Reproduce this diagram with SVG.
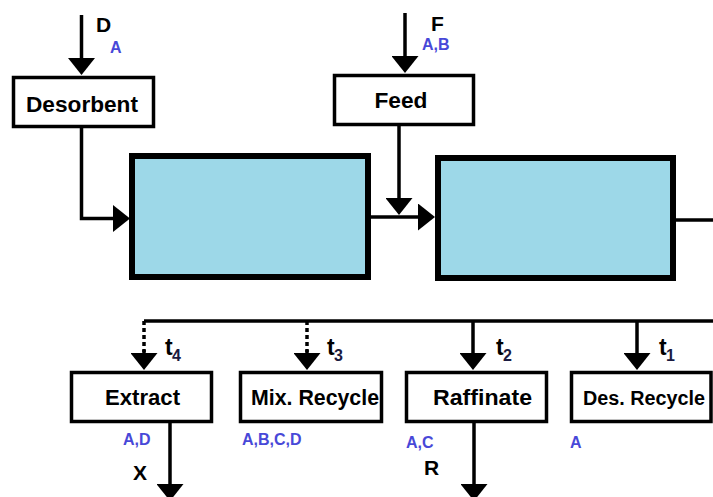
<svg xmlns="http://www.w3.org/2000/svg" width="713" height="497" viewBox="0 0 713 497">
<defs>
<marker id="arr" markerUnits="userSpaceOnUse" viewBox="0 0 17 27" markerWidth="17" markerHeight="27" refX="14" refY="13.5" orient="auto">
<path d="M0,0 L17,13.5 L0,27 z" fill="#000"/>
</marker>
<style>
.lbl{font-family:"Liberation Sans",Arial,sans-serif;font-weight:bold;font-size:22px;fill:#000;text-anchor:middle}
.nar{font-size:20px}
.big{font-family:"Liberation Sans",Arial,sans-serif;font-weight:bold;font-size:21px;fill:#000}
.tt{font-family:"Liberation Sans",Arial,sans-serif;font-weight:bold;font-size:23px;fill:#000}
.sub{font-family:"Liberation Sans",Arial,sans-serif;font-weight:bold;font-size:16px;fill:#1a1a40}
.blue{font-family:"Liberation Sans",Arial,sans-serif;font-weight:bold;font-size:16px;fill:#4848d8}
.box{fill:#fff;stroke:#000;stroke-width:3.5}
.col{fill:#9dd8e8;stroke:#000;stroke-width:6}
.ln{fill:none;stroke:#000;stroke-width:3.5}
.ar{marker-end:url(#arr)}
.dot{stroke-dasharray:4,3}
</style>
</defs>
<g id="connectors">
<path class="ln ar" d="M81.5,15 V72"/>
<path class="ln ar" d="M81.5,128 V218.5 H127"/>
<path class="ln ar" d="M405,13 V70"/>
<path class="ln ar" d="M399,126 V212"/>
<path class="ln ar" d="M371,217 H432"/>
<path class="ln" d="M676,220 H713"/>
<path class="ln" d="M144,321 H713"/>
<path class="ln dot" d="M144,321 V352"/>
<path class="ln ar" d="M144,350 V367"/>
<path class="ln dot" d="M307,321 V352"/>
<path class="ln ar" d="M307,350 V367"/>
<path class="ln ar" d="M473,321 V367"/>
<path class="ln ar" d="M637,321 V367"/>
<path class="ln ar" d="M170,423 V498"/>
<path class="ln ar" d="M474,423 V498"/>
</g>
<g id="column1"><rect class="col" x="132" y="156" width="236" height="121"/></g>
<g id="column2"><rect class="col" x="438" y="158" width="235" height="120"/></g>
<g id="desorbent">
<rect class="box" x="13.5" y="77.5" width="140" height="49"/>
<text class="lbl" x="82" y="112" textLength="112" lengthAdjust="spacingAndGlyphs">Desorbent</text>
</g>
<g id="feed">
<rect class="box" x="334.5" y="75.5" width="139" height="49"/>
<text class="lbl" x="401" y="108" textLength="53" lengthAdjust="spacingAndGlyphs">Feed</text>
</g>
<g id="extract">
<rect class="box" x="71.5" y="372.5" width="140" height="49"/>
<text class="lbl" x="142.5" y="405" textLength="75" lengthAdjust="spacingAndGlyphs">Extract</text>
</g>
<g id="mixrecycle">
<rect class="box" x="240.5" y="372.5" width="141" height="49"/>
<text class="lbl" x="315" y="405" textLength="128" lengthAdjust="spacingAndGlyphs">Mix. Recycle</text>
</g>
<g id="raffinate">
<rect class="box" x="406.5" y="372.5" width="140" height="49"/>
<text class="lbl" x="482.5" y="405" textLength="99" lengthAdjust="spacingAndGlyphs">Raffinate</text>
</g>
<g id="desrecycle">
<rect class="box" x="571.5" y="372.5" width="139.5" height="49"/>
<text class="lbl nar" x="644" y="405" textLength="122" lengthAdjust="spacingAndGlyphs">Des. Recycle</text>
</g>
<g id="labels">
<text class="big" x="96" y="32">D</text>
<text class="blue" x="110" y="53">A</text>
<text class="big" x="431" y="31">F</text>
<text class="blue" x="422" y="50">A,B</text>
<text class="tt" x="165" y="355">t</text><text class="sub" x="172" y="361">4</text>
<text class="tt" x="327" y="355">t</text><text class="sub" x="334" y="361">3</text>
<text class="tt" x="496" y="355">t</text><text class="sub" x="503" y="361">2</text>
<text class="tt" x="659" y="355">t</text><text class="sub" x="666" y="361">1</text>
<text class="blue" x="123" y="445">A,D</text>
<text class="big" x="133" y="480">X</text>
<text class="blue" x="242" y="445">A,B,C,D</text>
<text class="blue" x="406" y="448">A,C</text>
<text class="big" x="424" y="475">R</text>
<text class="blue" x="570" y="448">A</text>
</g>
</svg>
